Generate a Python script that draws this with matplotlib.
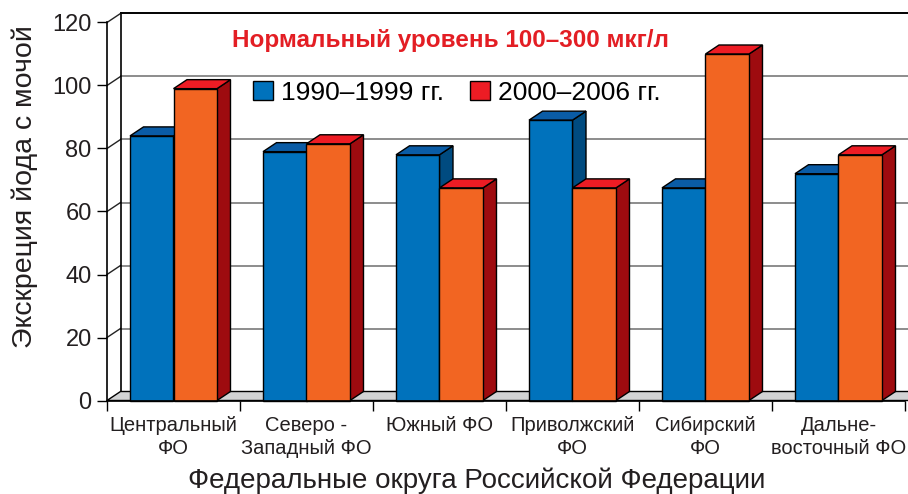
import matplotlib.pyplot as plt
from matplotlib.patches import Polygon, Patch

regions = ["Центральный\nФО", "Северо -\nЗападный ФО", "Южный ФО",
           "Приволжский\nФО", "Сибирский\nФО", "Дальне-\nвосточный ФО"]
values_1990_1999 = [84, 79, 78, 89, 67.5, 72]
values_2000_2006 = [99, 81.5, 67.5, 67.5, 110, 78]
series_labels = ["1990–1999 гг.", "2000–2006 гг."]
yticks = [0, 20, 40, 60, 80, 100, 120]

plt.rcParams['font.family'] = ['Liberation Sans', 'DejaVu Sans']

W, H = 908, 494
fig = plt.figure(figsize=(W / 100, H / 100), dpi=100)
ax = fig.add_axes([107 / W, (H - 400.5) / H, 798 / W, 378 / H])
ax.set_xlim(0, len(regions))
ax.set_ylim(0, 120)
ax.patch.set_visible(False)

# 3d depth offset in data units
DX = 13.5 / 133
DY = 9 / 3.15
n = len(regions)

# back wall and side wall gridlines
for v in yticks[1:]:
    hcol = 'black' if v == 120 else '#8c8c8c'
    ax.plot([DX, n + DX + 1], [v + DY, v + DY], color=hcol, lw=1.4,
            clip_on=False, zorder=1)
    ax.plot([0, DX], [v, v + DY], color='#222222', lw=1, clip_on=False, zorder=1)
ax.plot([DX, DX], [DY, 120 + DY], color='black', lw=1.2, clip_on=False, zorder=1)

# floor
floor = Polygon([(0, 0), (n + 1, 0), (n + 1 + DX, DY), (DX, DY)],
                closed=True, facecolor='#d2d3d4', edgecolor='black', lw=1,
                clip_on=False, zorder=2)
ax.add_patch(floor)

w = 0.327
blue = ('#0072bc', '#0a5ca6', '#004b80')
red = ('#f26522', '#ed1c24', '#9e0b0f')


def bar3d(x0, h, cols, z):
    front, top, side = cols
    s = Polygon([(x0 + w, 0), (x0 + w + DX, DY), (x0 + w + DX, h + DY), (x0 + w, h)],
                closed=True, facecolor=side, edgecolor='black', lw=1,
                clip_on=False, zorder=z)
    t = Polygon([(x0, h), (x0 + w, h), (x0 + w + DX, h + DY), (x0 + DX, h + DY)],
                closed=True, facecolor=top, edgecolor='black', lw=1,
                clip_on=False, zorder=z)
    ax.add_patch(s)
    ax.add_patch(t)
    ax.bar(x0, h, width=w, align='edge', color=front, edgecolor='black',
           lw=1, zorder=z + 0.5, clip_on=False)


z = 3
for i in range(n):
    bar3d(i + 0.5 - w, values_1990_1999[i], blue, z)
    bar3d(i + 0.5, values_2000_2006[i], red, z + 1)
    z += 2

for side in ['top', 'right']:
    ax.spines[side].set_visible(False)
for side in ['left', 'bottom']:
    ax.spines[side].set_linewidth(1.2)
    ax.spines[side].set_zorder(50)

ax.set_yticks(yticks)
ax.set_yticklabels([str(v) for v in yticks], fontsize=17, color='#231f20')
ax.tick_params(axis='y', direction='out', length=7, width=1, pad=4)
ax.set_xticks(range(n + 1))
ax.set_xticklabels([])
ax.tick_params(axis='x', which='major', direction='out', length=7, width=1)
ax.set_xticks([i + 0.5 for i in range(n)], minor=True)
ax.set_xticklabels(regions, minor=True, fontsize=14.5, linespacing=1.3,
                   color='#231f20')
ax.tick_params(axis='x', which='minor', length=0, pad=11)

fig.text(25 / W, (H - 187) / H, "Экскреция йода с мочой", rotation=90,
         ha='center', va='center', fontsize=20.5, color='#231f20')
fig.text(477 / W, (H - 488) / H, "Федеральные округа Российской Федерации",
         ha='center', va='baseline', fontsize=20, color='#231f20')
fig.text(451 / W, (H - 47) / H, "Нормальный уровень 100–300 мкг/л",
         ha='center', va='baseline', fontsize=17.5, fontweight='bold',
         color='#e31e24')

handles = [Patch(facecolor=blue[0], edgecolor='black'),
           Patch(facecolor=red[1], edgecolor='black')]
ax.legend(handles, series_labels, ncol=2, frameon=False, fontsize=19,
          handlelength=0.75, handleheight=0.75, handletextpad=0.3,
          columnspacing=1.0, borderpad=0, borderaxespad=0,
          loc='center left', bbox_to_anchor=(253 / W, (H - 93) / H),
          bbox_transform=fig.transFigure)

fig.savefig('out.png', dpi=100)
